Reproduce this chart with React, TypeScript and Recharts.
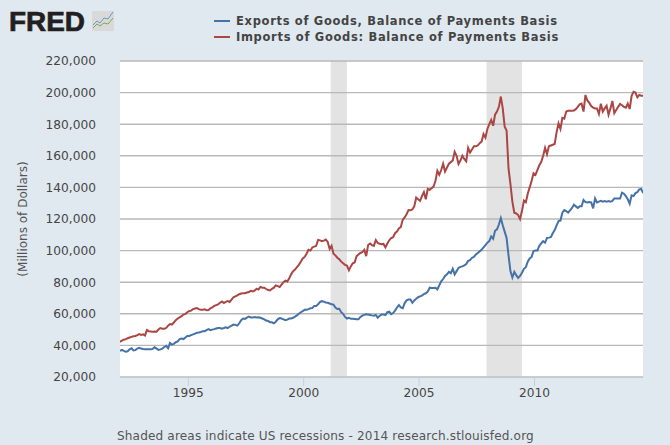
import React from 'react';
import { ComposedChart, Line, XAxis, YAxis, CartesianGrid, ReferenceArea, Legend } from 'recharts';

const exportsOfGoods = [
  36.5, 37.2, 36.5, 36, 36.3, 37.5, 38.2, 36.8, 37, 38, 38.5, 38,
  37.7, 37.6, 37.5, 37.6, 37.5, 37.8, 38.8, 38, 37.2, 37.5, 38, 39,
  39.7, 38.2, 41.5, 40.5, 41, 42, 42.5, 44, 44.3, 44, 45, 46,
  46, 46.5, 47, 47.5, 48, 48.2, 48.5, 49, 49, 49.7, 50.3, 49.7,
  50, 50.3, 50.7, 51, 51, 50.6, 51, 51.5, 51, 51.8, 52.5, 53.2,
  53, 52.5, 54, 56, 57, 56.8, 57.6, 58.2, 57.7, 57.6, 58, 57.7,
  57.8, 57.5, 57, 56.5, 55.7, 55.5, 54.7, 54.6, 54, 55, 56.5, 57.3,
  57, 56.5, 56, 56.3, 57, 57, 57.5, 58.2, 59, 60, 61, 61.7,
  62.5, 62.5, 63, 63.5, 63.7, 65, 65, 66, 67.5, 68, 67.7, 67.2,
  67, 66.5, 66, 65.8, 64, 63, 63.2, 61, 60, 58, 57, 57.5,
  56.8, 56.8, 56.7, 56.6, 56.5, 58, 58.8, 59.3, 59.7, 59.5, 59.3, 59,
  58.8, 59.3, 57.6, 58.8, 59.5, 59.5, 59.2, 61, 61.3, 59.8, 60.5, 62,
  64, 65.5, 64, 63.5, 66.8, 68.5, 69, 69, 67, 68.5, 69.5, 70.5,
  71, 71.5, 72.5, 73, 74, 76.5, 76.3, 76.3, 76.5, 75.5, 78, 80.5,
  82, 84, 85, 86.5, 85.7, 88.5, 85, 87, 89, 89.7, 90, 90.7,
  91.5, 93.5, 94, 95.5, 96, 97.5, 98.5, 99.5, 100.5, 102, 103.5, 105,
  106, 109, 107.5, 112.5, 113.5, 116.5, 120.5, 116, 112, 108, 97, 87,
  83, 86.5, 84.5, 82.7, 84, 86, 88.5, 89.5, 93, 95, 96, 99.7,
  100, 100, 103, 104.5, 106, 105, 108, 108.2, 108.5, 111, 113, 116,
  118.7, 119, 124, 125.7, 125, 124, 125.5, 127, 129, 128, 127, 128,
  128, 132, 130.7, 130.5, 130.8, 130.5, 126.7, 133, 130.5, 131, 131.5, 131,
  131.3, 131, 131.3, 131, 131.5, 133, 133, 133, 133, 136.6, 136, 134.5,
  132.5, 129.6, 135, 134.5, 136.4, 137, 138.8, 139, 136.4,
];

const importsOfGoods = [
  42.3, 43, 43.6, 44, 44.5, 45, 45.4, 45.8, 46, 46.5, 47.2, 46.6,
  47, 46.3, 49.7, 49, 48.8, 48.6, 48.8, 48.7, 50, 51, 50.6, 50.5,
  51, 52.5, 53.5, 53.2, 54.5, 56, 57, 57.8, 58.5, 59.5, 60, 61,
  61.8, 62, 63, 63.4, 63.6, 63, 62.5, 62.6, 62.8, 62.3, 62.4, 63.5,
  64, 65, 65.5, 66, 67, 67.8, 66.8, 67.6, 68, 67.5, 69, 70.5,
  71, 71.7, 72.4, 72.8, 73, 73, 73.5, 73.8, 74.5, 74.2, 74.7, 75.8,
  75.4, 77, 76.5, 76.5, 75.7, 75, 74.8, 75.8, 76.5, 78, 77.5, 77,
  78.5, 80, 81, 80.5, 82.5, 85, 87, 88, 89.5, 91, 93, 95,
  96, 98, 100.5, 100, 102, 102.5, 103, 106.8, 106.5, 106, 106.3, 107,
  105.5, 101, 103, 98, 97, 95.5, 94.5, 93, 92, 91, 90.5, 87.5,
  90, 92, 92.5, 96.5, 97.5, 98.5, 99, 100.5, 96.5, 103.5, 104.5, 103.5,
  103, 106.7, 104.8, 104.3, 104, 104.2, 102, 104.5, 106.5, 108, 108.5, 111,
  112, 114, 115, 119.5, 121, 123, 125.7, 125.5, 126, 128, 133.5, 132.5,
  131.5, 134.5, 137, 132.5, 139, 138.5, 139.5, 140.5, 144, 150.5, 148, 151,
  155, 150, 152.5, 155, 156, 157, 162.5, 160, 154.8, 157, 160, 158,
  156.5, 165, 162, 164, 166, 166, 166.5, 168, 169, 173.8, 171.5, 177,
  180, 182.7, 179, 186, 188, 191, 197.5, 190, 178.4, 176, 152, 142,
  131, 124, 123.5, 122.5, 120, 125, 131.6, 130.6, 136, 140, 144, 149,
  148, 151, 154, 156, 160, 165, 161, 166, 166.5, 167, 167.5, 175,
  180.5, 177, 184, 183.5, 188, 188.5, 188.5, 188.5, 188.7, 189.5, 191, 192.5,
  193, 188, 198.5, 195, 193.5, 191.5, 190.5, 190, 190, 186.5, 193, 188,
  190, 191.7, 186, 190, 194.7, 187, 189, 191, 192.8, 192, 191, 190.5,
  193, 189.6, 198, 200.5, 200, 197, 198.5, 198, 198,
];

const yTicks = [20000, 40000, 60000, 80000, 100000, 120000, 140000, 160000, 180000, 200000, 220000];
const xTicks = [1995, 2000, 2005, 2010];
const recessions = [
  { from: 2001.17, to: 2001.87 },
  { from: 2007.92, to: 2009.46 },
];
const exportsName = 'Exports of Goods, Balance of Payments Basis';
const importsName = 'Imports of Goods: Balance of Payments Basis';
const footerText = 'Shaded areas indicate US recessions - 2014 research.stlouisfed.org';

const rows = exportsOfGoods.map((v, i) => ({
  t: 1992.04 + i / 12,
  exp: v * 1000,
  imp: importsOfGoods[i] * 1000,
}));

const FONT = '"DejaVu Sans", sans-serif';
const BLUE = '#4572A7';
const RED = '#AA4643';

function LegendBox() {
  const items = [
    { c: BLUE, t: exportsName },
    { c: RED, t: importsName },
  ];
  return (
    <div style={{ width: 360 }}>
      {items.map((it) => (
        <div key={it.t} style={{ display: 'flex', alignItems: 'center', height: 16 }}>
          <span style={{ display: 'inline-block', width: 16, height: 2, background: it.c, marginRight: 6 }} />
          <span style={{ font: `bold 11.5px ${FONT}`, letterSpacing: '0.68px', color: '#444', whiteSpace: 'nowrap' }}>{it.t}</span>
        </div>
      ))}
    </div>
  );
}

function Logo() {
  return (
    <svg width={120} height={40} style={{ position: 'absolute', left: 0, top: 0 }}>
      <text x={9} y={31} style={{ font: 'bold 28px "Liberation Sans", sans-serif', fill: '#231f20', stroke: '#231f20', strokeWidth: 0.7 }} textLength={76} lengthAdjust="spacingAndGlyphs">FRED</text>
      <rect x={92} y={11} width={22} height={20} rx={1} fill="#d9d9d9" />
      <polyline points="93,25 97,21 100,23 104,18 108,19 113,12" fill="none" stroke="#5f92bd" strokeWidth={0.9} />
      <polyline points="93,28 97,24 100,26 104,23 108,24 113,18" fill="none" stroke="#6fa53f" strokeWidth={0.9} />
    </svg>
  );
}

export default function App() {
  return (
    <div style={{ position: 'fixed', left: 0, top: 0, width: 670, height: 445, background: '#E1E9F0', overflow: 'hidden' }}>
      <Logo />
      <div style={{ position: 'absolute', left: 117, top: 429, font: `12.1px ${FONT}`, letterSpacing: '0.14px', color: '#555', whiteSpace: 'nowrap' }}>{footerText}</div>
      <ComposedChart width={670} height={445} data={rows} margin={{ top: 61, right: 27, bottom: 0, left: 0 }}>
        <Legend
          verticalAlign="middle"
          content={<LegendBox />}
          wrapperStyle={{ position: 'absolute', left: 214, top: 12.5, width: 360 }}
        />
        <XAxis
          type="number"
          dataKey="t"
          domain={[1992.04, 2014.7]}
          ticks={xTicks}
          allowDataOverflow
          height={68}
          tickSize={9}
          tickMargin={2}
          stroke="#C0D0E0"
          tick={{ fill: '#444', fontFamily: 'DejaVu Sans', fontSize: 12.2 }}
          tickFormatter={(v: number) => String(v)}
        />
        <YAxis
          type="number"
          domain={[20000, 220000]}
          ticks={yTicks}
          interval={0}
          width={120}
          axisLine={false}
          tickLine={false}
          tickMargin={18}
          tick={{ fill: '#444', fontFamily: 'DejaVu Sans', fontSize: 12.2 }}
          tickFormatter={(v: number) => v.toLocaleString('en-US')}
          label={{ value: '(Millions of Dollars)', angle: -90, position: 'insideLeft', offset: 23, fill: '#555', fontFamily: 'DejaVu Sans', fontSize: 12, style: { textAnchor: 'middle' } }}
        />
        <ReferenceArea zIndex={-200} x1={1992.04} x2={2014.7} y1={20000} y2={220000} fill="#FFFFFF" fillOpacity={1} stroke="none" ifOverflow="hidden" />
        {recessions.map((r) => (
          <ReferenceArea zIndex={-150} key={r.from} x1={r.from} x2={r.to} y1={20000} y2={220000} fill="#E3E3E3" fillOpacity={1} stroke="none" ifOverflow="hidden" />
        ))}
        <CartesianGrid horizontal vertical={false} stroke="#B9B9B9" strokeWidth={1.4} fill="none" />
        <Line type="linear" dataKey="exp" name={exportsName} stroke={BLUE} strokeWidth={2} dot={false} isAnimationActive={false} />
        <Line type="linear" dataKey="imp" name={importsName} stroke={RED} strokeWidth={2} dot={false} isAnimationActive={false} />
      </ComposedChart>
    </div>
  );
}
